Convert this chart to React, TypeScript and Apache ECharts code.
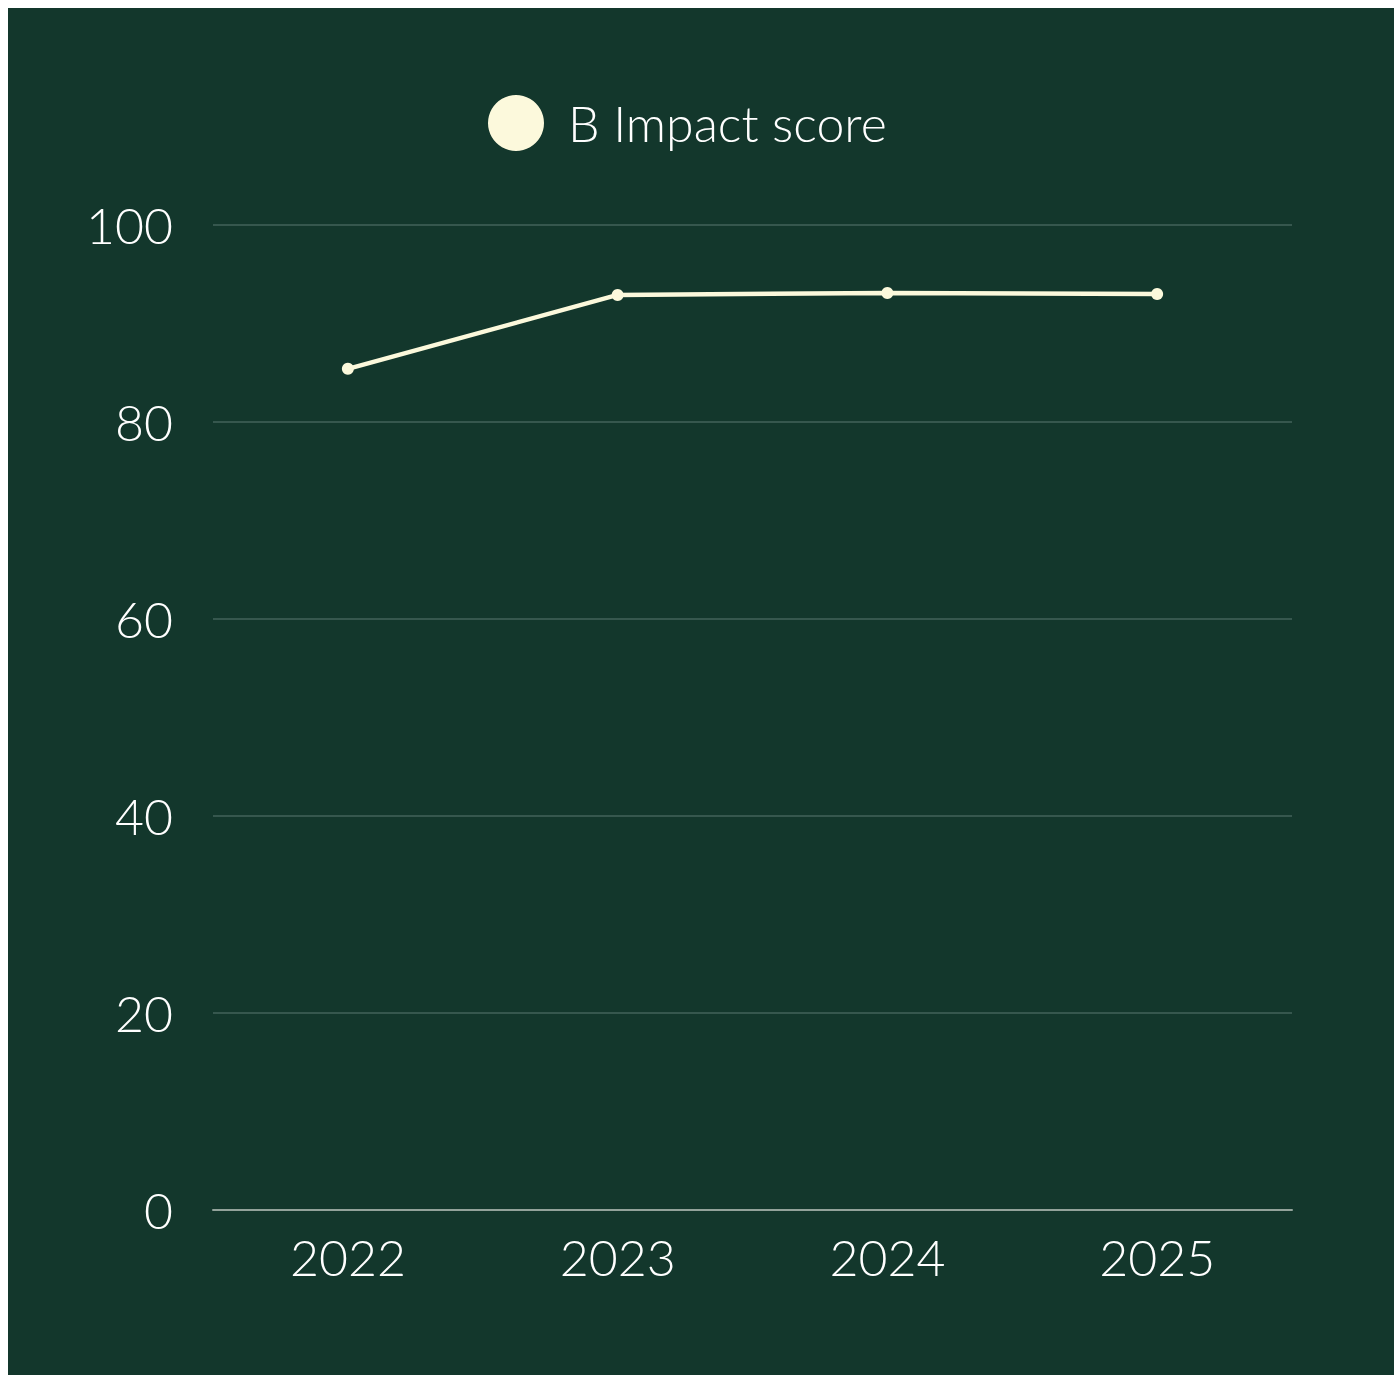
import React, { useEffect, useRef } from "react";
import * as echarts from "echarts";

const years = ["2022", "2023", "2024", "2025"];
const scores = [85.4, 92.9, 93.1, 93.0];
const seriesName = "B Impact score";
const yTicks = [0, 20, 40, 60, 80, 100];

const BG = "#13372c";
const CREAM = "#fcf9dc";
const FONT = "Lato";

export default function App() {
  const ref = useRef<HTMLDivElement>(null);
  useEffect(() => {
    if (!ref.current) return;
    const chart = echarts.init(ref.current, undefined, { renderer: "svg" });
    chart.setOption({
      animation: false,
      backgroundColor: BG,
      textStyle: { fontFamily: FONT },
      legend: {
        top: 82,
        left: 475,
        icon: "circle",
        itemWidth: 56,
        itemHeight: 56,
        itemGap: 20,
        textStyle: {
          color: "#ffffff",
          fontSize: 50,
          fontWeight: 300,
          fontFamily: FONT,
          padding: [0, 0, 10, 19],
        },
        data: [{ name: seriesName, itemStyle: { color: CREAM } }],
      },
      grid: { left: 205, top: 217, width: 1079, height: 985 },
      xAxis: {
        type: "category",
        data: years,
        boundaryGap: true,
        axisLine: { show: true, lineStyle: { color: "#93a39b", width: 2 } },
        axisTick: { show: false },
        axisLabel: { color: "#ffffff", fontSize: 50, fontWeight: 300, margin: 22, fontFamily: FONT },
      },
      yAxis: {
        type: "value",
        min: yTicks[0],
        max: yTicks[yTicks.length - 1],
        interval: 20,
        axisLine: { show: false },
        axisTick: { show: false },
        axisLabel: { color: "#ffffff", fontSize: 50, fontWeight: 300, margin: 40, fontFamily: FONT },
        splitLine: { lineStyle: { color: "#43635a", width: 1.5 } },
      },
      series: [
        {
          name: seriesName,
          type: "line",
          data: scores,
          symbol: "circle",
          symbolSize: 12,
          itemStyle: { color: CREAM },
          lineStyle: { color: CREAM, width: 4.5 },
        },
      ],
    });
    return () => chart.dispose();
  }, []);
  return (
    <div
      ref={ref}
      style={{ position: "fixed", left: 8, top: 8, right: -40, bottom: -40 }}
    />
  );
}
